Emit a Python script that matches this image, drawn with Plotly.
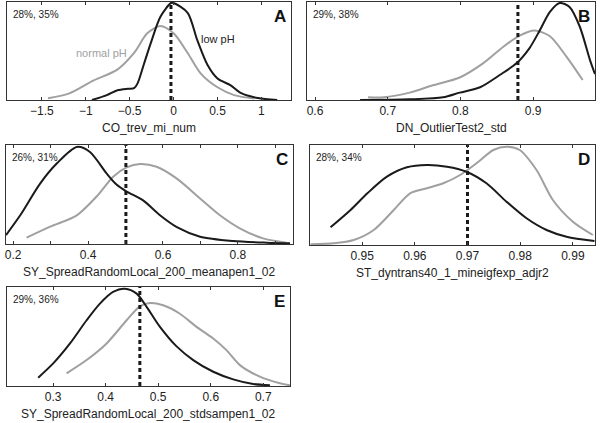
import plotly.graph_objects as go

W, H = 600, 423

# ---------------- data ----------------
# Panel A: CO_trev_mi_num
A_low_x = [-0.93, -0.76, -0.64, -0.52, -0.45, -0.41, -0.34, -0.26, -0.15, -0.03, 0.0, 0.16, 0.27, 0.385, 0.5, 0.65, 0.77, 0.96, 1.18]
A_low_y = [0.0, 0.05, 0.10, 0.115, 0.12, 0.17, 0.36, 0.58, 0.85, 0.99, 0.99, 0.89, 0.61, 0.36, 0.22, 0.15, 0.07, 0.02, 0.0]
A_norm_x = [-1.43, -1.18, -0.91, -0.64, -0.45, -0.30, -0.15, 0.0, 0.16, 0.31, 0.5, 0.69, 0.92]
A_norm_y = [0.017, 0.07, 0.2, 0.31, 0.48, 0.68, 0.755, 0.68, 0.48, 0.27, 0.13, 0.05, 0.014]
A_thr = -0.03

# Panel B: DN_OutlierTest2_std
B_low_x = [0.662, 0.730, 0.776, 0.799, 0.827, 0.854, 0.877, 0.895, 0.909, 0.923, 0.9365, 0.950, 0.964, 0.978, 0.985]
B_low_y = [0.0, 0.007, 0.027, 0.075, 0.13, 0.255, 0.374, 0.53, 0.71, 0.9, 0.99, 0.95, 0.75, 0.41, 0.265]
B_norm_x = [0.673, 0.694, 0.730, 0.762, 0.799, 0.831, 0.859, 0.882, 0.902, 0.923, 0.946, 0.968]
B_norm_y = [0.027, 0.027, 0.075, 0.15, 0.23, 0.374, 0.544, 0.66, 0.71, 0.65, 0.44, 0.204]
B_thr = 0.879

# Panel C: SY_SpreadRandomLocal_200_meanapen1_02
C_low_x = [0.181, 0.219, 0.272, 0.317, 0.370, 0.405, 0.45, 0.476, 0.503, 0.547, 0.592, 0.637, 0.699, 0.787, 0.877, 0.939]
C_low_y = [0.09, 0.29, 0.61, 0.815, 0.98, 0.93, 0.71, 0.6, 0.53, 0.44, 0.29, 0.17, 0.074, 0.03, 0.013, 0.007]
C_norm_x = [0.236, 0.299, 0.37, 0.423, 0.467, 0.503, 0.539, 0.583, 0.637, 0.699, 0.752, 0.805, 0.867, 0.93]
C_norm_y = [0.064, 0.175, 0.29, 0.48, 0.68, 0.774, 0.808, 0.78, 0.66, 0.46, 0.29, 0.158, 0.057, 0.013]
C_thr = 0.501

# Panel D: ST_dyntrans40_1_mineigfexp_adjr2
D_low_x = [0.944, 0.9478, 0.951, 0.9547, 0.9585, 0.9623, 0.9661, 0.9698, 0.9736, 0.9774, 0.9812, 0.985, 0.9888, 0.9941]
D_low_y = [0.177, 0.35, 0.517, 0.683, 0.777, 0.8, 0.783, 0.733, 0.617, 0.433, 0.267, 0.15, 0.083, 0.04]
D_norm_x = [0.9402, 0.9446, 0.9484, 0.9522, 0.956, 0.9591, 0.9623, 0.9654, 0.9686, 0.9717, 0.9749, 0.9774, 0.9799, 0.9831, 0.9862, 0.99, 0.9938]
D_norm_y = [0.007, 0.017, 0.05, 0.15, 0.35, 0.517, 0.567, 0.617, 0.7, 0.817, 0.95, 0.983, 0.95, 0.75, 0.45, 0.233, 0.1]
D_thr = 0.97

# Panel E: SY_SpreadRandomLocal_200_stdsampen1_02
E_low_x = [0.2714, 0.3, 0.332, 0.3636, 0.389, 0.414, 0.4366, 0.4589, 0.4779, 0.503, 0.535, 0.5667, 0.6048, 0.6429, 0.681, 0.7128]
E_low_y = [0.084, 0.228, 0.43, 0.664, 0.832, 0.95, 0.983, 0.933, 0.8, 0.6, 0.4, 0.262, 0.144, 0.067, 0.02, 0.007]
E_norm_x = [0.3255, 0.3636, 0.4017, 0.4398, 0.465, 0.4842, 0.5095, 0.5413, 0.5731, 0.6048, 0.630, 0.6556, 0.6937, 0.7318, 0.751]
E_norm_y = [0.128, 0.262, 0.43, 0.664, 0.805, 0.839, 0.815, 0.73, 0.597, 0.48, 0.362, 0.211, 0.094, 0.027, 0.007]
E_thr = 0.465

panel_letters = ["A", "B", "C", "D", "E"]
panel_pcts = ["28%, 35%", "29%, 38%", "26%, 31%", "28%, 34%", "29%, 36%"]
panel_titles = ["CO_trev_mi_num", "DN_OutlierTest2_std",
                "SY_SpreadRandomLocal_200_meanapen1_02",
                "ST_dyntrans40_1_mineigfexp_adjr2",
                "SY_SpreadRandomLocal_200_stdsampen1_02"]
ticks_A = [-1.5, -1, -0.5, 0, 0.5, 1]
ticks_B = [0.6, 0.7, 0.8, 0.9]
ticks_C = [0.2, 0.4, 0.6, 0.8]
ticks_D = [0.95, 0.96, 0.97, 0.98, 0.99]
ticks_E = [0.3, 0.4, 0.5, 0.6, 0.7]
minor_dtick = [None, None, 0.1, None, None]

# ---------------- layout geometry (pixels) ----------------
boxes = [  # x0, x1, y0(top), y1(bottom)
    (7, 291, 2, 100),
    (307, 595, 2, 100),
    (6, 293, 145, 244),
    (310, 595, 145, 245),
    (7, 290, 287, 386),
]
xranges = [(-1.897, 1.337), (0.589, 0.985), (0.181, 0.947), (0.9401, 0.9942), (0.212, 0.751)]

panels = [
    (A_low_x, A_low_y, A_norm_x, A_norm_y, A_thr, ticks_A),
    (B_low_x, B_low_y, B_norm_x, B_norm_y, B_thr, ticks_B),
    (C_low_x, C_low_y, C_norm_x, C_norm_y, C_thr, ticks_C),
    (D_low_x, D_low_y, D_norm_x, D_norm_y, D_thr, ticks_D),
    (E_low_x, E_low_y, E_norm_x, E_norm_y, E_thr, ticks_E),
]

BLACK = "#1a1a1a"
GRAY = "#a0a0a0"
FONT = "Arial, Liberation Sans, Helvetica, sans-serif"

fig = go.Figure()
annotations = []
layout = {}

for i, (lx, ly, nx, ny, thr, tv) in enumerate(panels):
    n = i + 1
    xa = "x" if n == 1 else f"x{n}"
    ya = "y" if n == 1 else f"y{n}"
    x0, x1, t, b = boxes[i]
    dom_x = [x0 / W, x1 / W]
    dom_y = [1 - b / H, 1 - t / H]

    fig.add_trace(go.Scatter(x=nx, y=ny, mode="lines", line=dict(color=GRAY, width=2, shape="spline", smoothing=0.8),
                             xaxis=xa, yaxis=ya, showlegend=False, hoverinfo="skip"))
    fig.add_trace(go.Scatter(x=lx, y=ly, mode="lines", line=dict(color=BLACK, width=2, shape="spline", smoothing=0.8),
                             xaxis=xa, yaxis=ya, showlegend=False, hoverinfo="skip"))
    fig.add_trace(go.Scatter(x=[thr, thr], y=[0, 1], mode="lines", line=dict(color=BLACK, width=3, dash="4px,3px"),
                             xaxis=xa, yaxis=ya, showlegend=False, hoverinfo="skip"))

    axkey = "xaxis" if n == 1 else f"xaxis{n}"
    aykey = "yaxis" if n == 1 else f"yaxis{n}"
    xaxis = dict(domain=dom_x, range=list(xranges[i]), anchor=ya,
                 showgrid=False, zeroline=False, showline=True, linecolor="#333", linewidth=1,
                 mirror="ticks", ticks="inside", ticklen=3, tickcolor="#333",
                 tickvals=tv, tickfont=dict(family=FONT, size=12, color="#222"))
    if minor_dtick[i]:
        xaxis["minor"] = dict(ticks="inside", ticklen=3, dtick=minor_dtick[i], tick0=0, tickcolor="#333", showgrid=False)
    layout[axkey] = xaxis
    layout[aykey] = dict(domain=dom_y, range=[0, 1.0], anchor=xa,
                         showgrid=False, zeroline=False, showline=True, linecolor="#333", linewidth=1,
                         mirror=True, ticks="", showticklabels=False)

    annotations.append(dict(text=panel_pcts[i], x=(x0 + 4) / W, y=1 - (t + 12) / H, xref="paper", yref="paper",
                            xanchor="left", yanchor="middle", showarrow=False,
                            font=dict(family=FONT, size=10, color="#222")))
    annotations.append(dict(text=f"<b>{panel_letters[i]}</b>", x=(x1 - 3) / W, y=1 - (t + 14) / H,
                            xref="paper", yref="paper", xanchor="right", yanchor="middle", showarrow=False,
                            font=dict(family=FONT, size=17, color="#111")))
    annotations.append(dict(text=panel_titles[i], x=(x0 + x1) / 2 / W, y=1 - (b + 28) / H, xref="paper", yref="paper",
                            xanchor="center", yanchor="middle", showarrow=False,
                            font=dict(family=FONT, size=12, color="#222")))

annotations.append(dict(text="low pH", x=218 / W, y=1 - 39 / H, xref="paper", yref="paper", showarrow=False,
                        xanchor="center", yanchor="middle", font=dict(family=FONT, size=11, color="#222")))
annotations.append(dict(text="normal pH", x=101 / W, y=1 - 53 / H, xref="paper", yref="paper", showarrow=False,
                        xanchor="center", yanchor="middle", font=dict(family=FONT, size=11, color=GRAY)))

fig.update_layout(width=W, height=H, margin=dict(l=0, r=0, t=0, b=0), paper_bgcolor="white",
                  plot_bgcolor="white", annotations=annotations, **layout)

fig.write_html("out.html", config={"displayModeBar": False},
               post_script="document.body.style.margin='0';document.body.style.overflow='hidden';")
